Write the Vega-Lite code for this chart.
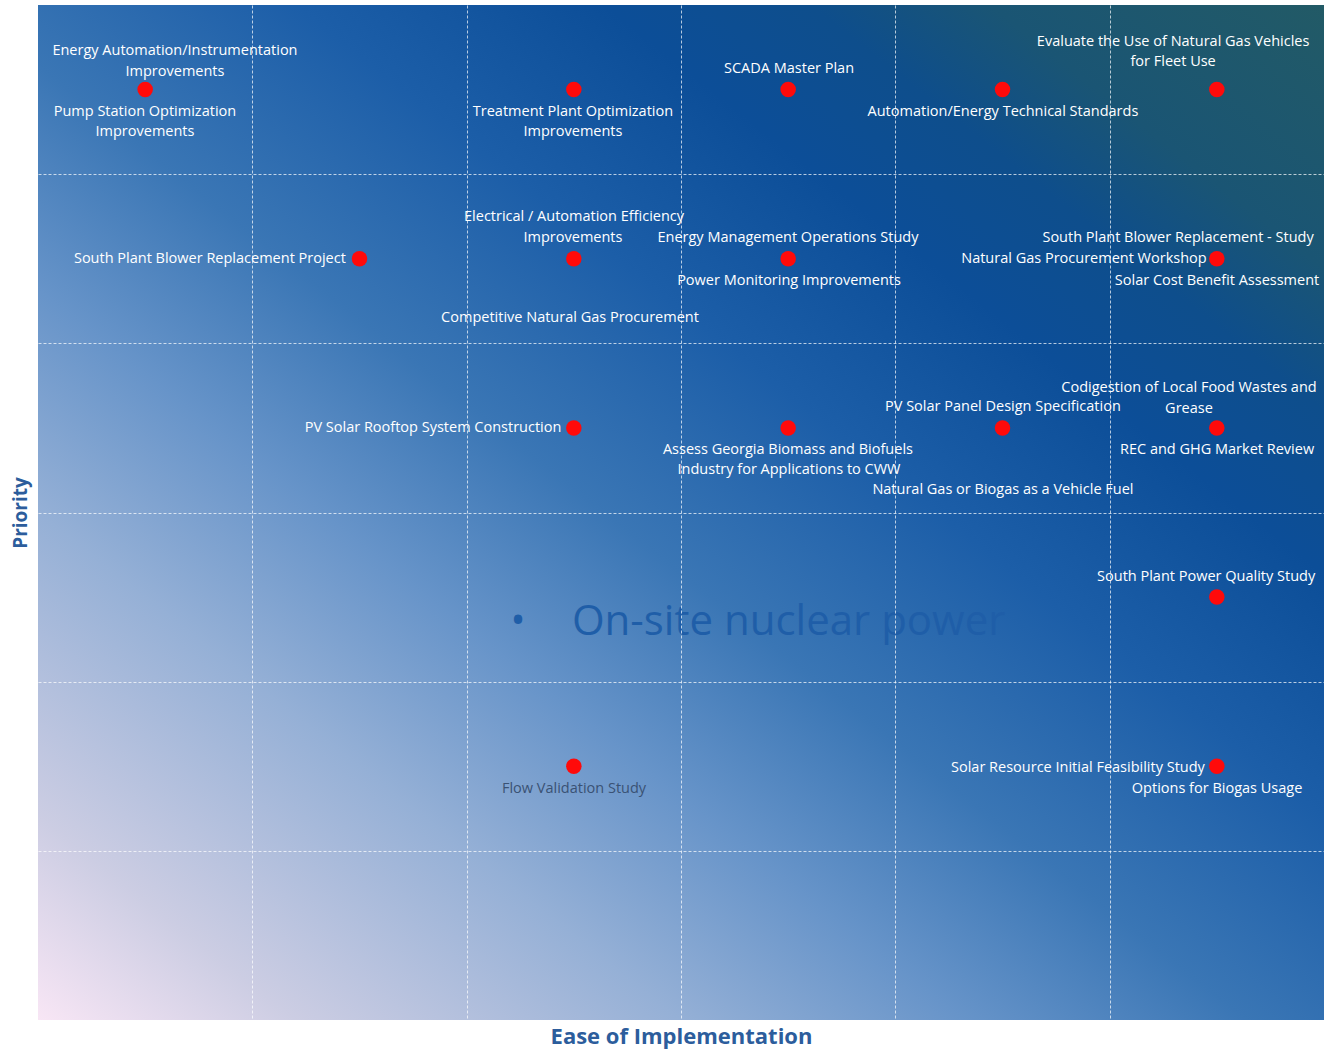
{
  "$schema": "https://vega.github.io/schema/vega-lite/v6.json",
  "width": 1286,
  "height": 1015,
  "autosize": "none",
  "padding": {"left": 38, "top": 5, "right": 0, "bottom": 32},
  "background": "white",
  "config": {"view": {"stroke": null}},
  "datasets": {
    "frame": [{"name": "plot"}],
    "points": [
      {"ease": 0.5, "priority": 5.5},
      {"ease": 2.5, "priority": 5.5},
      {"ease": 3.5, "priority": 5.5},
      {"ease": 4.5, "priority": 5.5},
      {"ease": 5.5, "priority": 5.5},
      {"ease": 1.5, "priority": 4.5},
      {"ease": 2.5, "priority": 4.5},
      {"ease": 3.5, "priority": 4.5},
      {"ease": 5.5, "priority": 4.5},
      {"ease": 2.5, "priority": 3.5},
      {"ease": 3.5, "priority": 3.5},
      {"ease": 4.5, "priority": 3.5},
      {"ease": 5.5, "priority": 3.5},
      {"ease": 5.5, "priority": 2.5},
      {"ease": 2.5, "priority": 1.5},
      {"ease": 5.5, "priority": 1.5}
    ],
    "labels": [
      {"lx": 0.639, "ly": 5.728, "label": "Energy Automation/Instrumentation", "shade": "light"},
      {"lx": 0.639, "ly": 5.604, "label": "Improvements", "shade": "light"},
      {"lx": 0.499, "ly": 5.368, "label": "Pump Station Optimization", "shade": "light"},
      {"lx": 0.499, "ly": 5.249, "label": "Improvements", "shade": "light"},
      {"lx": 2.496, "ly": 5.368, "label": "Treatment Plant Optimization", "shade": "light"},
      {"lx": 2.496, "ly": 5.249, "label": "Improvements", "shade": "light"},
      {"lx": 3.504, "ly": 5.622, "label": "SCADA Master Plan", "shade": "light"},
      {"lx": 4.502, "ly": 5.368, "label": "Automation/Energy Technical Standards", "shade": "light"},
      {"lx": 5.296, "ly": 5.781, "label": "Evaluate the Use of Natural Gas Vehicles", "shade": "light"},
      {"lx": 5.296, "ly": 5.663, "label": "for Fleet Use", "shade": "light"},
      {"lx": 0.802, "ly": 4.498, "label": "South Plant Blower Replacement Project", "shade": "light"},
      {"lx": 2.501, "ly": 4.747, "label": "Electrical / Automation Efficiency", "shade": "light"},
      {"lx": 2.496, "ly": 4.623, "label": "Improvements", "shade": "light"},
      {"lx": 2.482, "ly": 4.150, "label": "Competitive Natural Gas Procurement", "shade": "light"},
      {"lx": 3.499, "ly": 4.623, "label": "Energy Management Operations Study", "shade": "light"},
      {"lx": 3.504, "ly": 4.368, "label": "Power Monitoring Improvements", "shade": "light"},
      {"lx": 5.319, "ly": 4.623, "label": "South Plant Blower Replacement - Study", "shade": "light"},
      {"lx": 4.880, "ly": 4.498, "label": "Natural Gas Procurement Workshop", "shade": "light"},
      {"lx": 5.501, "ly": 4.368, "label": "Solar Cost Benefit Assessment", "shade": "light"},
      {"lx": 1.843, "ly": 3.499, "label": "PV Solar Rooftop System Construction", "shade": "light"},
      {"lx": 3.499, "ly": 3.369, "label": "Assess Georgia Biomass and Biofuels", "shade": "light"},
      {"lx": 3.504, "ly": 3.251, "label": "Industry for Applications to CWW", "shade": "light"},
      {"lx": 4.502, "ly": 3.624, "label": "PV Solar Panel Design Specification", "shade": "light"},
      {"lx": 4.502, "ly": 3.133, "label": "Natural Gas or Biogas as a Vehicle Fuel", "shade": "light"},
      {"lx": 5.370, "ly": 3.736, "label": "Codigestion of Local Food Wastes and", "shade": "light"},
      {"lx": 5.370, "ly": 3.612, "label": "Grease", "shade": "light"},
      {"lx": 5.501, "ly": 3.369, "label": "REC and GHG Market Review", "shade": "light"},
      {"lx": 5.450, "ly": 2.619, "label": "South Plant Power Quality Study", "shade": "light"},
      {"lx": 2.501, "ly": 1.366, "label": "Flow Validation Study", "shade": "dark"},
      {"lx": 4.852, "ly": 1.490, "label": "Solar Resource Initial Feasibility Study", "shade": "light"},
      {"lx": 5.501, "ly": 1.366, "label": "Options for Biogas Usage", "shade": "light"}
    ],
    "note": [
      {"bx": 2.240, "tx": 2.491, "ny": 2.353, "bullet": "•", "text": "On-site nuclear power"}
    ]
  },
  "layer": [
    {
      "data": {"name": "frame"},
      "mark": {
        "type": "rect",
        "color": {
          "gradient": "linear",
          "x1": 0, "y1": 1, "x2": 1, "y2": 0,
          "stops": [
            {"offset": 0, "color": "#f8e6f5"},
            {"offset": 0.1, "color": "#cccde3"},
            {"offset": 0.25, "color": "#95b0d6"},
            {"offset": 0.36, "color": "#6794c9"},
            {"offset": 0.47, "color": "#3a76b5"},
            {"offset": 0.6, "color": "#1c5ea8"},
            {"offset": 0.72, "color": "#0c4e98"},
            {"offset": 0.8, "color": "#0e4e8c"},
            {"offset": 0.87, "color": "#1a5574"},
            {"offset": 1, "color": "#225a66"}
          ]
        }
      },
      "encoding": {
        "x": {"datum": 0, "type": "quantitative", "scale": {"domain": [0, 6]}},
        "x2": {"datum": 6},
        "y": {"datum": 0, "type": "quantitative", "scale": {"domain": [0, 6]}},
        "y2": {"datum": 6}
      }
    },
    {
      "data": {"name": "points"},
      "mark": {"type": "point", "filled": true, "color": "#ff0a0a", "opacity": 1, "size": 240},
      "encoding": {
        "x": {
          "field": "ease", "type": "quantitative",
          "scale": {"domain": [0, 6], "nice": false, "zero": false},
          "axis": {
            "title": "Ease of Implementation",
            "values": [1, 2, 3, 4, 5],
            "labels": false, "ticks": false, "domain": false, "zindex": 1,
            "grid": true, "gridColor": "#ffffff", "gridOpacity": 0.7, "gridDash": [3, 2], "gridWidth": 1,
            "titleFont": "Open Sans", "titleFontSize": 22, "titleFontWeight": "bold", "titleColor": "#2c5d9c",
            "titlePadding": 6
          }
        },
        "y": {
          "field": "priority", "type": "quantitative",
          "scale": {"domain": [0, 6], "nice": false, "zero": false},
          "axis": {
            "title": "Priority",
            "values": [1, 2, 3, 4, 5],
            "labels": false, "ticks": false, "domain": false, "zindex": 1,
            "grid": true, "gridColor": "#ffffff", "gridOpacity": 0.7, "gridDash": [3, 2], "gridWidth": 1,
            "titleFont": "Open Sans", "titleFontSize": 19, "titleFontWeight": "bold", "titleColor": "#2c5d9c",
            "titlePadding": 8
          }
        }
      }
    },
    {
      "data": {"name": "labels"},
      "mark": {"type": "text", "font": "Open Sans", "fontSize": 14.5, "align": "center", "baseline": "middle"},
      "encoding": {
        "x": {"field": "lx", "type": "quantitative"},
        "y": {"field": "ly", "type": "quantitative"},
        "text": {"field": "label"},
        "color": {"field": "shade", "type": "nominal", "scale": {"domain": ["light", "dark"], "range": ["#ffffff", "#3a5274"]}, "legend": null}
      }
    },
    {
      "data": {"name": "note"},
      "mark": {"type": "text", "font": "Open Sans", "fontSize": 40, "align": "center", "baseline": "middle", "color": "#1f5ea8"},
      "encoding": {
        "x": {"field": "bx", "type": "quantitative"},
        "y": {"field": "ny", "type": "quantitative"},
        "text": {"field": "bullet"}
      }
    },
    {
      "data": {"name": "note"},
      "mark": {"type": "text", "font": "Open Sans", "fontSize": 42, "align": "left", "baseline": "middle", "color": "#1f5ea8"},
      "encoding": {
        "x": {"field": "tx", "type": "quantitative"},
        "y": {"field": "ny", "type": "quantitative"},
        "text": {"field": "text"}
      }
    }
  ]
}
